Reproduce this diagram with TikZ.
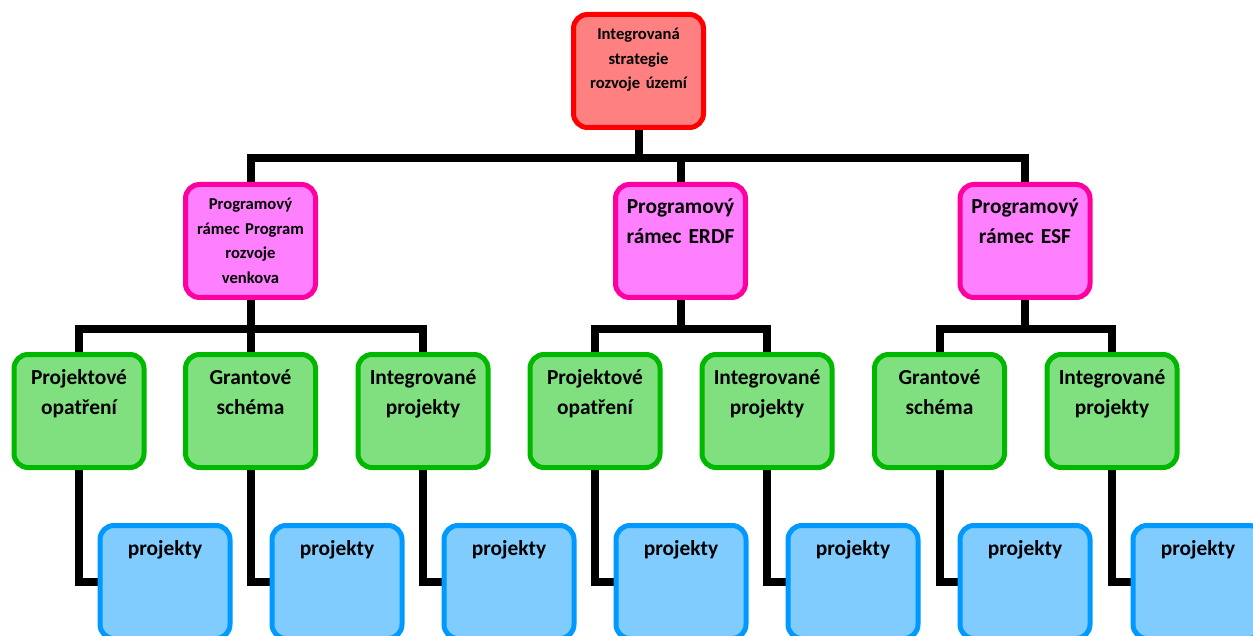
\documentclass[tikz,border=0pt]{standalone}
\usepackage{fontspec}
\setmainfont{Carlito}
\usetikzlibrary{backgrounds}

\definecolor{topline}{HTML}{FF0000}
\definecolor{topfill}{HTML}{FF8080}
\definecolor{progline}{HTML}{FF00A0}
\definecolor{progfill}{HTML}{FF80FF}
\definecolor{typeline}{HTML}{00B800}
\definecolor{typefill}{HTML}{80E080}
\definecolor{projline}{HTML}{0099FF}
\definecolor{projfill}{HTML}{80CCFF}

\tikzset{
  box/.style={rounded corners=7pt, line width=2.5pt, anchor=north,
    inner sep=0pt, text width=65pt, align=center,
    font=\bfseries\fontsize{10.7}{15}\selectfont,
    text height=14.75pt, text depth=41.75pt},
  smallbox/.style={box, font=\bfseries\fontsize{8.3}{12.2}\selectfont,
    text height=12.75pt, text depth=43.75pt},
  topbox/.style={smallbox, draw=topline, fill=topfill},
  progbox/.style={box, draw=progline, fill=progfill},
  typebox/.style={box, draw=typeline, fill=typefill},
  projbox/.style={box, draw=projline, fill=projfill},
  conn/.style={line width=4pt, black}
}

\begin{document}
\begin{tikzpicture}[x=0.5pt, y=-0.5pt]
\useasboundingbox (0, 0) rectangle (1253, 636);
% top
\node[topbox] (top) at (638.5, 12) {Integrovaná\\strategie\\rozvoje území};
% programove ramce
\node[progbox, smallbox] (p1) at (250.5, 182)
    {Programový\\rámec Program\\rozvoje\\venkova};
\node[progbox] (p2) at (680.5, 182) {Programový\\rámec ERDF};
\node[progbox] (p3) at (1025, 182) {Programový\\rámec ESF};
% typy
\node[typebox] (g1) at (79, 352) {Projektové\\opatření};
\node[typebox] (g2) at (250.5, 352) {Grantové\\schéma};
\node[typebox] (g3) at (423, 352) {Integrované\\projekty};
\node[typebox] (g4) at (595, 352) {Projektové\\opatření};
\node[typebox] (g5) at (767, 352) {Integrované\\projekty};
\node[typebox] (g6) at (939.5, 352) {Grantové\\schéma};
\node[typebox] (g7) at (1112, 352) {Integrované\\projekty};
% projekty
\foreach \i/\x in {1/165, 2/337, 3/509, 4/681, 5/853, 6/1025, 7/1198}
    \node[projbox] (b\i) at (\x, 523) {projekty};

\begin{scope}[on background layer]
\coordinate (bar0) at (638.5, 158);
\coordinate (bar1) at (250.5, 329);
\coordinate (bar2) at (680.5, 329);
\coordinate (bar3) at (1025, 329);
\foreach \p in {p1, p2, p3}
    \draw[conn] (top.south) -- (bar0) -| (\p.north);
\foreach \g in {g1, g2, g3}
    \draw[conn] (p1.south) -- (bar1) -| (\g.north);
\foreach \g in {g4, g5}
    \draw[conn] (p2.south) -- (bar2) -| (\g.north);
\foreach \g in {g6, g7}
    \draw[conn] (p3.south) -- (bar3) -| (\g.north);
\foreach \i in {1, 2, ..., 7}
    \draw[conn] (g\i.south) |- (b\i.west);
\end{scope}
\end{tikzpicture}
\end{document}
